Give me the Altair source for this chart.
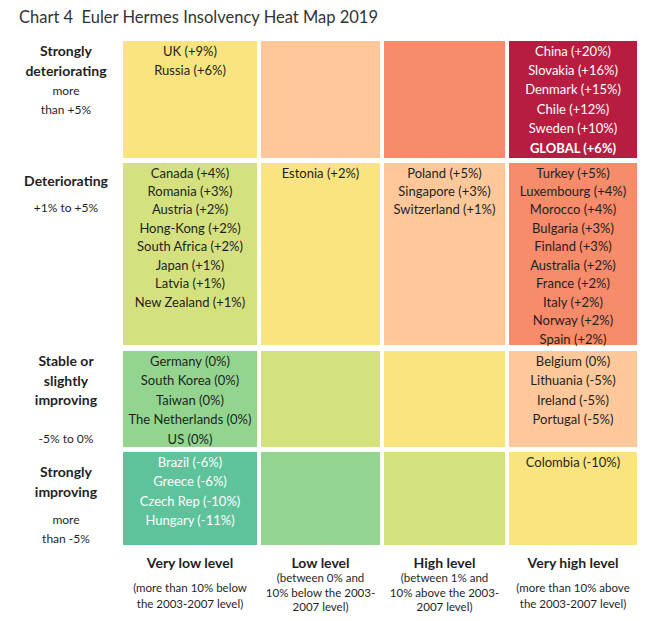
import altair as alt
import pandas as pd

# ---------------- data ----------------
title_text = "Chart 4\u00a0\u00a0Euler Hermes Insolvency Heat Map 2019"

columns = ["Very low level", "Low level", "High level", "Very high level"]
column_notes = [
    ["(more than 10% below", "the 2003-2007 level)"],
    ["(between 0% and", "10% below the 2003-", "2007 level)"],
    ["(between 1% and", "10% above the 2003-", "2007 level)"],
    ["(more than 10% above", "the 2003-2007 level)"],
]

rows = ["Strongly deteriorating", "Deteriorating", "Stable or slightly improving", "Strongly improving"]
row_title_lines = [["Strongly", "deteriorating"], ["Deteriorating"],
                   ["Stable or", "slightly", "improving"], ["Strongly", "improving"]]
row_note_lines = [["more", "than +5%"], ["+1% to +5%"], ["-5% to 0%"], ["more", "than -5%"]]

# countries per cell (row, column)
strong_det_very_low = ["UK (+9%)", "Russia (+6%)"]
strong_det_low = []
strong_det_high = []
strong_det_very_high = ["China (+20%)", "Slovakia (+16%)", "Denmark (+15%)", "Chile (+12%)",
                        "Sweden (+10%)", "GLOBAL (+6%)"]
det_very_low = ["Canada (+4%)", "Romania (+3%)", "Austria (+2%)", "Hong-Kong (+2%)",
                "South Africa (+2%)", "Japan (+1%)", "Latvia (+1%)", "New Zealand (+1%)"]
det_low = ["Estonia (+2%)"]
det_high = ["Poland (+5%)", "Singapore (+3%)", "Switzerland (+1%)"]
det_very_high = ["Turkey (+5%)", "Luxembourg (+4%)", "Morocco (+4%)", "Bulgaria (+3%)",
                 "Finland (+3%)", "Australia (+2%)", "France (+2%)", "Italy (+2%)",
                 "Norway (+2%)", "Spain (+2%)"]
stable_very_low = ["Germany (0%)", "South Korea (0%)", "Taiwan (0%)", "The Netherlands (0%)", "US (0%)"]
stable_low = []
stable_high = []
stable_very_high = ["Belgium (0%)", "Lithuania (-5%)", "Ireland (-5%)", "Portugal (-5%)"]
strong_imp_very_low = ["Brazil (-6%)", "Greece (-6%)", "Czech Rep (-10%)", "Hungary (-11%)"]
strong_imp_low = []
strong_imp_high = []
strong_imp_very_high = ["Colombia (-10%)"]

cell_lists = [
    [strong_det_very_low, strong_det_low, strong_det_high, strong_det_very_high],
    [det_very_low, det_low, det_high, det_very_high],
    [stable_very_low, stable_low, stable_high, stable_very_high],
    [strong_imp_very_low, strong_imp_low, strong_imp_high, strong_imp_very_high],
]

# ---------------- layout & style ----------------
risk_colors = ["#5EC39A", "#93D58F", "#D4E17E", "#F9E47F", "#FEC89A", "#F78B6A", "#B71C41"]
col_left = [123, 261, 384, 509]
col_right = [257, 380, 505, 637]
row_top = [41, 163, 351, 452]
row_bottom = [158, 345, 447, 545]
line_step = [19.4, 18.45, 19.5, 19.6]
first_offset = 10.5
row_title_y = [52, 182, 362, 473]
row_note_y = [91, 208, 439, 520]
header_y = 564
FONT = "Lato"
TXT = "#1f1f1f"

cells, ctext = [], []
for r in range(4):
    for c in range(4):
        risk = c - r + 3
        cells.append(dict(x=col_left[c], x2=col_right[c], y=row_top[r], y2=row_bottom[r],
                          risk=risk, row=rows[r], col=columns[c]))
        for i, lab in enumerate(cell_lists[r][c]):
            ctext.append(dict(x=(col_left[c] + col_right[c]) / 2,
                              y=row_top[r] + first_offset + i * line_step[r],
                              label=lab,
                              bold=lab.startswith("GLOBAL"),
                              color="#ffffff" if risk in (0, 6) else TXT))
cells_df = pd.DataFrame(cells)
ctext_df = pd.DataFrame(ctext)

rt, rn = [], []
for r in range(4):
    for i, t in enumerate(row_title_lines[r]):
        rt.append(dict(x=66, y=row_title_y[r] + i * 19.6, label=t))
    for i, t in enumerate(row_note_lines[r]):
        rn.append(dict(x=66, y=row_note_y[r] + i * 19, label=t))
rt_df = pd.DataFrame(rt)
rn_df = pd.DataFrame(rn)

ch, cn = [], []
for c in range(4):
    cx = (col_left[c] + col_right[c]) / 2
    ch.append(dict(x=cx, y=header_y, label=columns[c]))
    notes = column_notes[c]
    start, step = (589, 16.0) if len(notes) == 2 else (579, 14.6)
    for i, t in enumerate(notes):
        cn.append(dict(x=cx, y=start + i * step, label=t))
ch_df = pd.DataFrame(ch)
cn_df = pd.DataFrame(cn)
title_df = pd.DataFrame([dict(x=19, y=18, label=title_text)])

xs = alt.Scale(domain=[8, 662])
ys = alt.Scale(domain=[8, 613], reverse=True)

def X(f="x"):
    return alt.X(f"{f}:Q", scale=xs, axis=None)

def Y(f="y"):
    return alt.Y(f"{f}:Q", scale=ys, axis=None)

rects = alt.Chart(cells_df).mark_rect().encode(
    x=X(), x2="x2:Q", y=Y(), y2="y2:Q",
    color=alt.Color("risk:O", scale=alt.Scale(domain=list(range(7)), range=risk_colors), legend=None),
)

def text_layer(df, size, weight="normal", color=TXT, align="center", color_field=False):
    mk = alt.Chart(df).mark_text(font=FONT, fontSize=size, fontWeight=weight,
                                 align=align, baseline="middle",
                                 **({} if color_field else {"color": color}))
    enc = dict(x=X(), y=Y(), text="label:N")
    if color_field:
        enc["color"] = alt.Color("color:N", scale=None)
    return mk.encode(**enc)

cell_reg = text_layer(ctext_df[~ctext_df.bold], 13, color_field=True)
cell_bold = text_layer(ctext_df[ctext_df.bold], 13, weight="bold", color_field=True)
row_titles = text_layer(rt_df, 14, weight="bold")
row_notes = text_layer(rn_df, 12)
col_heads = text_layer(ch_df, 14, weight="bold")
col_notes = text_layer(cn_df, 11.5)
title = text_layer(title_df, 16.5, color="#333333", align="left")

chart = alt.layer(rects, cell_reg, cell_bold, row_titles, row_notes, col_heads, col_notes, title).properties(
    width=654, height=605, padding=0,
    autosize=alt.AutoSizeParams(type="none"),
    background="white",
).configure_view(stroke=None)

chart.save("out.html", embed_options={"renderer": "svg", "actions": False})
